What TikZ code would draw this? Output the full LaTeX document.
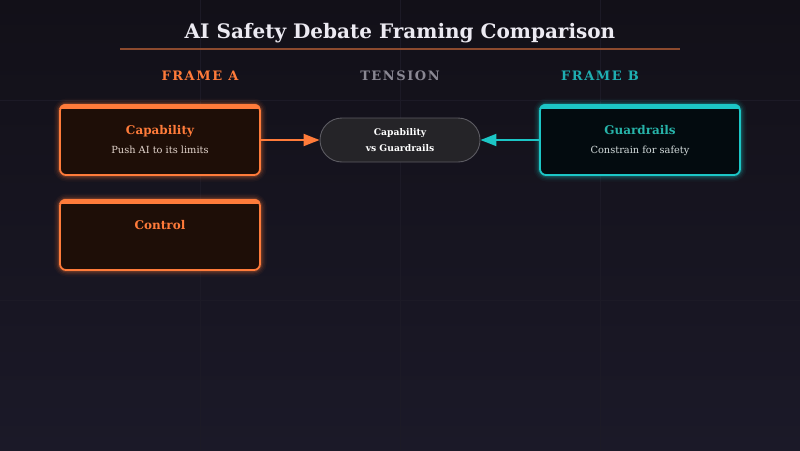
\documentclass[tikz,border=0pt]{standalone}
\usepackage{fontspec}
\setmainfont{DejaVu Serif}
\newfontfamily\hdrfont[LetterSpace=12]{DejaVu Serif}
\usetikzlibrary{arrows.meta}
\definecolor{bgtop}{HTML}{121018}
\definecolor{bgbot}{HTML}{1B1928}
\definecolor{gridc}{HTML}{1C1A26}
\definecolor{orng}{HTML}{FF7B3A}
\definecolor{orngfill}{HTML}{1E0E07}
\definecolor{tealb}{HTML}{1CC6C6}
\definecolor{tealt}{HTML}{27B3A9}
\definecolor{tealh}{HTML}{1FAFB2}
\definecolor{tealfill}{HTML}{030B0F}
\definecolor{titlec}{HTML}{ECEAF2}
\definecolor{rulec}{HTML}{8C4A2E}
\definecolor{tensh}{HTML}{8A8893}
\definecolor{pillfill}{HTML}{252428}
\definecolor{pillb}{HTML}{5C5B62}
\definecolor{subA}{HTML}{E2D4CC}
\definecolor{subB}{HTML}{D4DCDC}
\tikzset{
  framebox/.style={rectangle, rounded corners=6pt, line width=1.8pt,
    minimum width=200pt, minimum height=70pt, inner sep=0pt},
  boxtitle/.style={font=\bfseries\fontsize{12}{13}\selectfont, anchor=base, inner sep=0pt},
  boxsub/.style={font=\fontsize{9.8}{11}\selectfont, anchor=base, inner sep=0pt},
  colhead/.style={font=\hdrfont\bfseries\fontsize{13}{14}\selectfont, anchor=base, inner sep=0pt},
  pillnode/.style={rectangle, rounded corners=22pt, minimum width=160pt, minimum height=44pt,
    fill=pillfill, draw=pillb, line width=0.9pt, inner sep=0pt},
  pilltext/.style={font=\bfseries\fontsize{9.2}{11}\selectfont, text=white, anchor=base, inner sep=0pt},
  conn/.style={line width=2pt, -{Triangle[length=16pt,width=12pt]}},
}
\newcommand{\glowrect}[5]{%
  \foreach \w/\o in {13/0.04, 10/0.06, 7/0.1, 4.5/0.18}{%
    \draw[#5, line width=\w pt, opacity=\o, rounded corners=7pt] (#1,#2) rectangle (#3,#4);}%
}
\begin{document}
\begin{tikzpicture}[x=1pt,y=-1pt]
\shade[top color=bgtop, bottom color=bgbot] (0,0) rectangle (800,450);
\useasboundingbox (0,0) rectangle (800,450);
% grid
\foreach \gx in {200,400,600}{\draw[gridc, line width=1pt] (\gx,0) -- (\gx,450);}
\foreach \gy in {100,300}{\draw[gridc, line width=1pt] (0,\gy) -- (800,\gy);}
% title
\node[font=\bfseries\fontsize{20}{23}\selectfont, text=titlec, anchor=base, inner sep=0pt] (title) at (400,38) {AI Safety Debate Framing Comparison};
\coordinate (ruleL) at (120,49);
\coordinate (ruleR) at (680,49);
\draw[rulec, line width=1.5pt] (ruleL) -- (ruleR);
% column heads
\node[colhead, text=orng] (hA) at (200,80.3) {FRAME A};
\node[colhead, text=tensh] (hT) at (400,80.3) {TENSION};
\node[colhead, text=tealh] (hB) at (600,80.3) {FRAME B};
% glows
\glowrect{60}{105}{260}{175}{orng}
\glowrect{60}{200}{260}{270}{orng}
\glowrect{540}{105}{740}{175}{tealb}
% boxes
\node[framebox, fill=orngfill, draw=orng] (cap) at (160,140) {};
\node[framebox, fill=orngfill, draw=orng] (ctrl) at (160,235) {};
\node[framebox, fill=tealfill, draw=tealb] (guard) at (640,140) {};
% top bands
\begin{scope}
  \clip[rounded corners=6pt] (cap.north west) rectangle (cap.south east);
  \fill[orng] (cap.north west) rectangle ([yshift=-5pt]cap.north east);
\end{scope}
\begin{scope}
  \clip[rounded corners=6pt] (ctrl.north west) rectangle (ctrl.south east);
  \fill[orng] (ctrl.north west) rectangle ([yshift=-5pt]ctrl.north east);
\end{scope}
\begin{scope}
  \clip[rounded corners=6pt] (guard.north west) rectangle (guard.south east);
  \fill[tealb] (guard.north west) rectangle ([yshift=-5pt]guard.north east);
\end{scope}
% box texts
\node[boxtitle, text=orng] (capT) at (160,134) {Capability};
\node[boxsub, text=subA] (capS) at (160,153.3) {Push AI to its limits};
\node[boxtitle, text=orng] (ctrlT) at (160,229) {Control};
\node[boxtitle, text=tealt] (guardT) at (640,134) {Guardrails};
\node[boxsub, text=subB] (guardS) at (640,153.3) {Constrain for safety};
% tension pill
\node[pillnode] (ten) at (400,140) {};
\node[pilltext] (tenA) at (400,135.5) {Capability};
\node[pilltext] (tenB) at (400,151.5) {vs Guardrails};
% connectors
\draw[conn, orng] (cap.east) -- (ten.west);
\draw[conn, tealb] (guard.west) -- (ten.east);
\end{tikzpicture}
\end{document}
